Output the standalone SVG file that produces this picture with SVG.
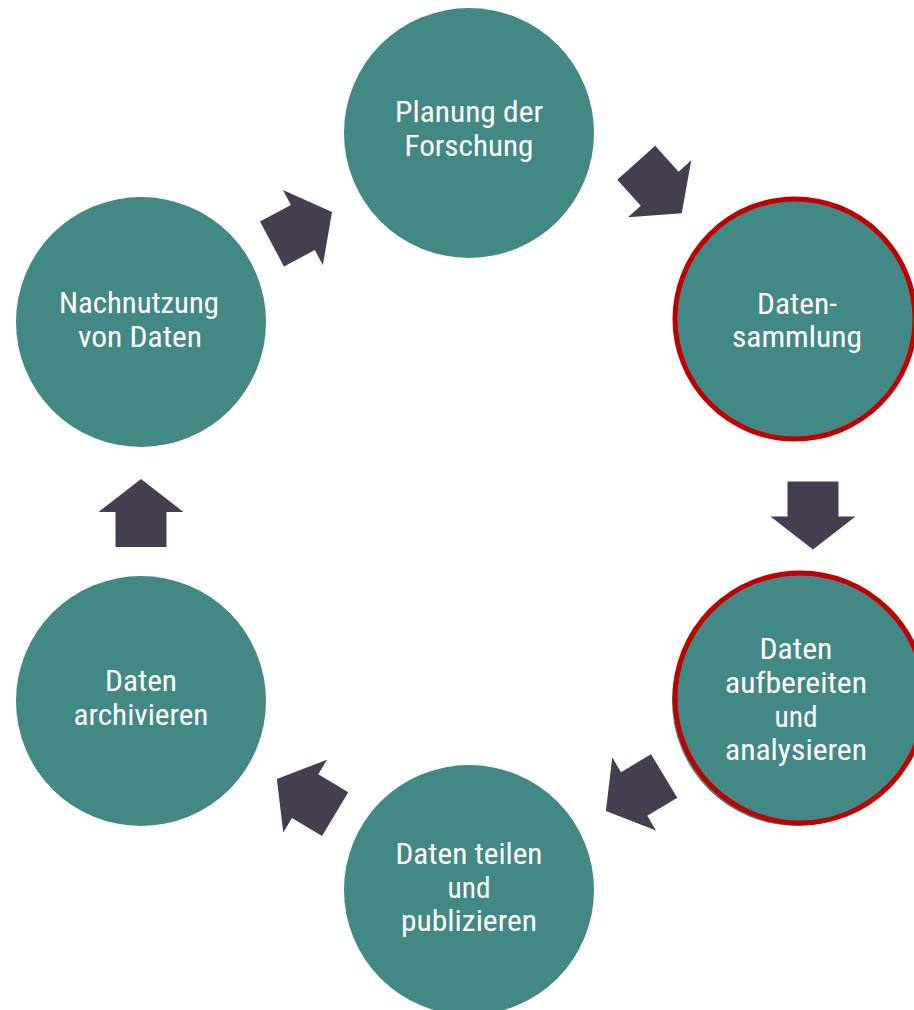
<svg xmlns="http://www.w3.org/2000/svg" width="914" height="1010" viewBox="0 0 914 1010">
  <style>
    .step { fill: #428985; }
    .focus { fill: #428985; stroke: #c00000; stroke-width: 5; }
    .lbl { font-family: Roboto, "Liberation Sans", sans-serif; font-size: 29px; font-stretch: condensed; fill: #ffffff; text-anchor: middle; }
    .arrow { fill: #453d50; }
  </style>
  <defs>
    <!-- block arrow pointing along +x, centred on the origin -->
    <path id="blockArrow" d="M-34,-25.5 L1,-25.5 L1,-42.5 L34,0 L1,42.5 L1,25.5 L-34,25.5 Z"/>
  </defs>
  <rect width="914" height="1010" fill="#ffffff"/>

  <g id="connectors" class="arrow">
    <use href="#blockArrow" transform="translate(659,188) rotate(48)"/>
    <use href="#blockArrow" transform="translate(813,515.5) rotate(90)"/>
    <use href="#blockArrow" transform="translate(635,793.5) rotate(149)"/>
    <use href="#blockArrow" transform="translate(306,796.6) rotate(211)"/>
    <use href="#blockArrow" transform="translate(141,513) rotate(-90)"/>
    <use href="#blockArrow" transform="translate(302,228) rotate(-28)"/>
  </g>

  <g id="planung">
    <circle class="step" cx="469" cy="133" r="125"/>
    <text class="lbl" x="469" y="122" textLength="148" lengthAdjust="spacingAndGlyphs">Planung der</text>
    <text class="lbl" x="469" y="156" textLength="129" lengthAdjust="spacingAndGlyphs">Forschung</text>
  </g>

  <g id="datensammlung">
    <circle class="focus" cx="795" cy="319" r="120"/>
    <text class="lbl" x="797" y="314" textLength="80" lengthAdjust="spacingAndGlyphs">Daten-</text>
    <text class="lbl" x="797" y="347" textLength="130" lengthAdjust="spacingAndGlyphs">sammlung</text>
  </g>

  <g id="aufbereiten">
    <circle class="step" cx="797" cy="701" r="125"/>
    <circle class="focus" cx="800" cy="698" r="125"/>
    <text class="lbl" x="796" y="659" textLength="73" lengthAdjust="spacingAndGlyphs">Daten</text>
    <text class="lbl" x="796" y="693" textLength="142" lengthAdjust="spacingAndGlyphs">aufbereiten</text>
    <text class="lbl" x="796" y="727" textLength="43" lengthAdjust="spacingAndGlyphs">und</text>
    <text class="lbl" x="796" y="760" textLength="142" lengthAdjust="spacingAndGlyphs">analysieren</text>
  </g>

  <g id="teilen">
    <circle class="step" cx="469" cy="890" r="125"/>
    <text class="lbl" x="469" y="864" textLength="147" lengthAdjust="spacingAndGlyphs">Daten teilen</text>
    <text class="lbl" x="469" y="897.5" textLength="43" lengthAdjust="spacingAndGlyphs">und</text>
    <text class="lbl" x="469" y="931" textLength="136" lengthAdjust="spacingAndGlyphs">publizieren</text>
  </g>

  <g id="archivieren">
    <circle class="step" cx="141" cy="701" r="125"/>
    <text class="lbl" x="141" y="691" textLength="72" lengthAdjust="spacingAndGlyphs">Daten</text>
    <text class="lbl" x="141" y="725" textLength="135" lengthAdjust="spacingAndGlyphs">archivieren</text>
  </g>

  <g id="nachnutzung">
    <circle class="step" cx="141" cy="322" r="125"/>
    <text class="lbl" x="139" y="313" textLength="160" lengthAdjust="spacingAndGlyphs">Nachnutzung</text>
    <text class="lbl" x="140" y="347" textLength="124" lengthAdjust="spacingAndGlyphs">von Daten</text>
  </g>
</svg>
